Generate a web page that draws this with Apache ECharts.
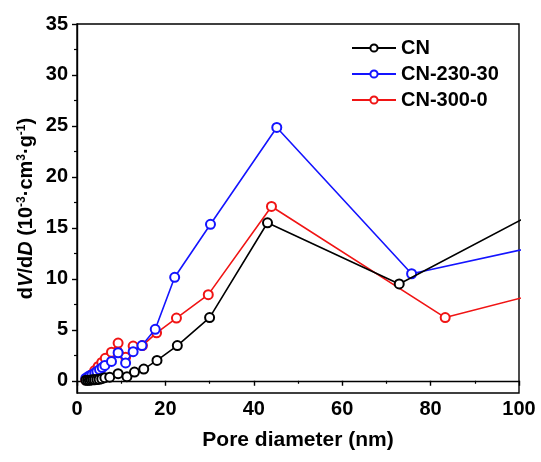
<!DOCTYPE html>
<html>
<head>
<meta charset="utf-8">
<script src="https://cdn.jsdelivr.net/npm/echarts@6/dist/echarts.min.js"></script>
<style>
  html, body { margin: 0; padding: 0; background: #fff; }
  #chart { width: 541px; height: 462px; }
</style>
</head>
<body>
<div id="chart"></div>
<script>
// 图例名称
const seriesNames = ['CN', 'CN-230-30', 'CN-300-0']
const seriesColors = ['#000000', '#1414ff', '#f01414']

// CN  (孔径 nm, dV/dD)
const cnX = [2.0, 2.4, 2.8, 3.2, 3.6, 4.0, 4.5, 5.0, 5.6, 6.3, 7.4, 9.3, 11.3, 13.0, 15.1, 18.1, 22.7, 30.0, 43.1, 72.9, 115]
const cnY = [0.05, 0.05, 0.05, 0.08, 0.1, 0.1, 0.12, 0.15, 0.2, 0.3, 0.35, 0.7, 0.4, 0.85, 1.15, 2.0, 3.45, 6.2, 15.5, 9.5, 19.1]

// CN-230-30
const c230X = [2.0, 2.5, 2.9, 3.4, 4.0, 4.5, 5.1, 5.7, 6.3, 7.8, 9.3, 11.0, 12.7, 14.7, 17.7, 22.1, 30.2, 45.2, 75.7, 120]
const c230Y = [0.25, 0.4, 0.5, 0.6, 0.75, 0.9, 1.1, 1.3, 1.5, 1.9, 2.75, 1.75, 2.85, 3.45, 5.05, 10.15, 15.35, 24.85, 10.5, 14.7]

// CN-300-0
const c300X = [2.0, 2.6, 3.3, 4.0, 4.8, 5.6, 6.4, 7.8, 9.3, 11.0, 12.7, 14.8, 18.0, 22.5, 29.7, 44.0, 83.3, 120]
const c300Y = [0.1, 0.3, 0.6, 1.0, 1.4, 1.8, 2.2, 2.8, 3.7, 2.3, 3.4, 3.45, 4.7, 6.15, 8.45, 17.1, 6.2, 10.3]

// 坐标轴刻度
const yMajor = [0, 5, 10, 15, 20, 25, 30, 35]
const yMinor = [2.5, 7.5, 12.5, 17.5, 22.5, 27.5, 32.5]

const zip = (xs, ys) => xs.map((x, i) => [x, ys[i]])
const allData = [zip(cnX, cnY), zip(c230X, c230Y), zip(c300X, c300Y)]

const FONT = 'Liberation Sans, Arial, sans-serif'
const chart = echarts.init(document.getElementById('chart'))

const option = {
  backgroundColor: '#fff',
  animation: false,
  grid: {
    left: 77,
    right: 22,
    top: 24,
    bottom: 69,
    show: true,
    borderColor: '#000',
    borderWidth: 1.4,
  },
  legend: {
    orient: 'vertical',
    left: 346,
    top: 33,
    itemWidth: 44,
    itemHeight: 9,
    itemGap: 6,
    textStyle: { fontFamily: FONT, fontWeight: 'bold', fontSize: 20, color: '#000' },
    data: seriesNames,
  },
  xAxis: {
    type: 'value',
    min: 0,
    max: 100,
    interval: 20,
    name: 'Pore diameter (nm)',
    nameLocation: 'middle',
    nameGap: 37,
    nameTextStyle: { fontFamily: FONT, fontWeight: 'bold', fontSize: 21, color: '#000' },
    axisLine: { lineStyle: { color: '#000', width: 1.4 } },
    axisTick: { inside: false, length: 5, lineStyle: { color: '#000', width: 1.4 } },
    minorTick: { show: true, splitNumber: 2, length: 3, lineStyle: { color: '#000', width: 1.2 } },
    axisLabel: { fontFamily: FONT, fontWeight: 'bold', fontSize: 20, color: '#000', margin: 6 },
    splitLine: { show: false },
  },
  yAxis: [
    {
      type: 'value',
      min: -1.2,
      max: 35,
      name: 'd{i|V}/d{i|D} (10{sup|-3}·cm{sup|3}·g{sup|-1})',
      nameLocation: 'middle',
      nameGap: 41,
      nameMoveOverlap: false,
      nameRotate: 90,
      nameTextStyle: {
        fontFamily: FONT, fontWeight: 'bold', fontSize: 20, color: '#000',
        rich: {
          i: { fontFamily: FONT, fontWeight: 'bold', fontStyle: 'italic', fontSize: 20, color: '#000' },
          sup: { fontFamily: FONT, fontWeight: 'bold', fontSize: 12, color: '#000', verticalAlign: 'top', padding: [0, 0, 8, 0] },
        },
      },
      axisLine: { lineStyle: { color: '#000', width: 1.4 } },
      axisTick: { inside: false, length: 5, customValues: yMajor, lineStyle: { color: '#000', width: 1.4 } },
      axisLabel: { fontFamily: FONT, fontWeight: 'bold', fontSize: 20, color: '#000', margin: 9, customValues: yMajor },
      splitLine: { show: false },
    },
    {
      // 次刻度
      type: 'value',
      min: -1.2,
      max: 35,
      position: 'left',
      axisLine: { show: false },
      axisTick: { inside: false, length: 3, customValues: yMinor, lineStyle: { color: '#000', width: 1.2 } },
      axisLabel: { show: false },
      splitLine: { show: false },
    },
  ],
  series: allData.map((d, i) => ({
    name: seriesNames[i],
    type: 'line',
    data: d,
    clip: true,
    symbol: 'emptyCircle',
    symbolSize: 9,
    color: seriesColors[i],
    lineStyle: { color: seriesColors[i], width: 1.6 },
    itemStyle: { color: seriesColors[i], borderWidth: 1.2 },
    z: 3 - i,
  })),
}

chart.setOption(option)
</script>
</body>
</html>
